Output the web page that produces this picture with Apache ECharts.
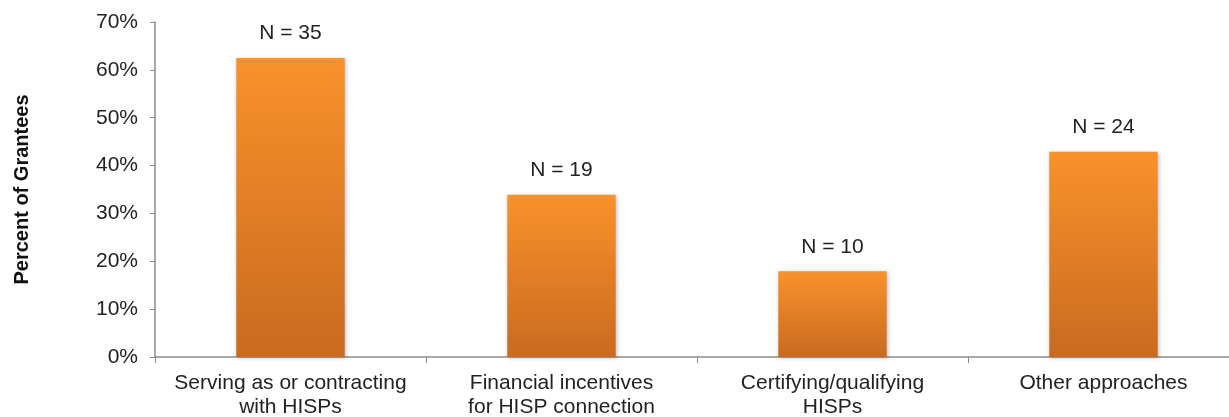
<!DOCTYPE html>
<html>
<head>
<meta charset="utf-8">
<script src="https://cdn.jsdelivr.net/npm/echarts@6/dist/echarts.min.js"></script>
<style>
  html, body { margin: 0; padding: 0; background: #fff; }
  #chart { width: 1229px; height: 417px; }
</style>
</head>
<body>
<div id="chart"></div>
<script>
const categories = [
  'Serving as or contracting\nwith HISPs',
  'Financial incentives\nfor HISP connection',
  'Certifying/qualifying\nHISPs',
  'Other approaches'
];
const percentValues = [62.5, 33.9, 17.9, 42.9];
const countLabels = ['N = 35', 'N = 19', 'N = 10', 'N = 24'];

const chart = echarts.init(document.getElementById('chart'));

const font = 'Liberation Sans, Arial, sans-serif';
const barColor = new echarts.graphic.LinearGradient(0, 0, 0, 1, [
  { offset: 0, color: '#F9922B' },
  { offset: 1, color: '#C96A20' }
]);

chart.setOption({
  animation: false,
  grid: { left: 155, top: 22, bottom: 60, width: 1084, outerBoundsMode: 'none', containLabel: false },
  xAxis: {
    type: 'category',
    data: categories,
    axisLine: { lineStyle: { color: '#8c8c8c', width: 1.5 } },
    axisTick: { show: true, length: 6, lineStyle: { color: '#8c8c8c' } },
    axisLabel: {
      color: '#222',
      fontSize: 21,
      fontFamily: font,
      lineHeight: 24,
      margin: 14,
      interval: 0
    }
  },
  yAxis: {
    type: 'value',
    min: 0,
    max: 70,
    interval: 10,
    name: 'Percent of Grantees',
    nameLocation: 'middle',
    nameGap: 123,
    nameTextStyle: {
      color: '#111',
      fontSize: 20,
      fontWeight: 'bold',
      fontFamily: font
    },
    axisLine: { show: true, lineStyle: { color: '#8c8c8c', width: 1.5 } },
    axisTick: { show: true, length: 5, lineStyle: { color: '#8c8c8c' } },
    splitLine: { show: false },
    axisLabel: {
      color: '#222',
      fontSize: 21,
      fontFamily: font,
      margin: 17,
      formatter: '{value}%'
    }
  },
  series: [{
    type: 'bar',
    data: percentValues,
    barWidth: '40%',
    itemStyle: {
      color: barColor,
      shadowBlur: 4,
      shadowColor: 'rgba(0,0,0,0.25)',
      shadowOffsetX: 1,
      shadowOffsetY: 1
    },
    label: {
      show: true,
      position: 'top',
      distance: 14,
      color: '#222',
      fontSize: 21,
      fontFamily: font,
      formatter: p => countLabels[p.dataIndex]
    }
  }]
});
</script>
</body>
</html>
